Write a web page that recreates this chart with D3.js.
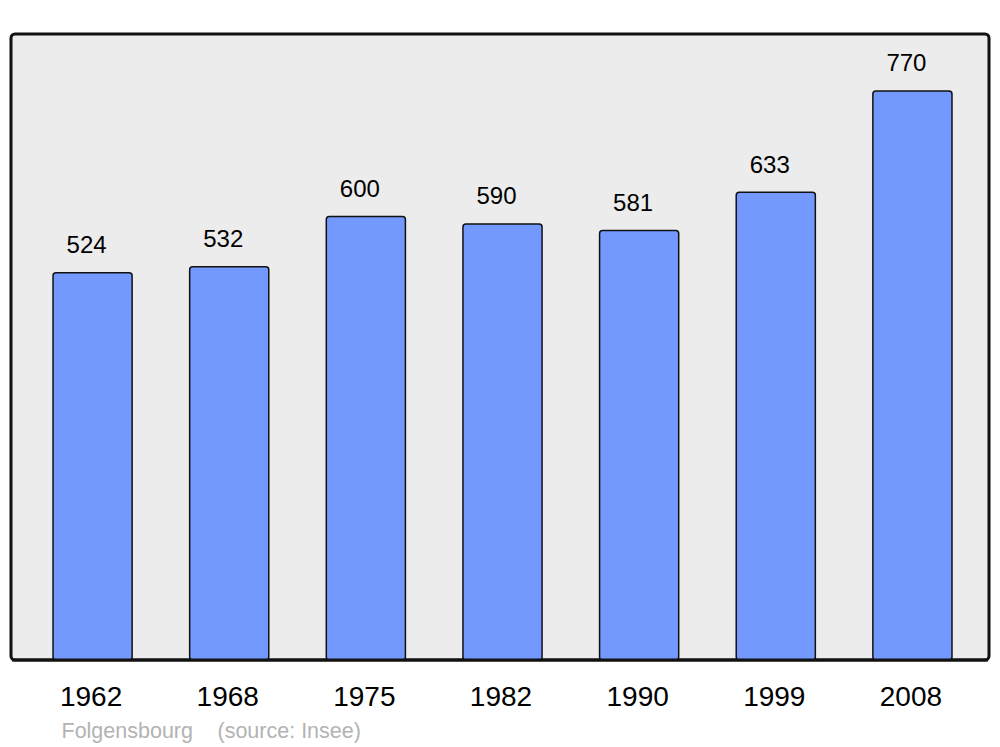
<!DOCTYPE html>
<html><head><meta charset="utf-8">
<script src="https://cdn.jsdelivr.net/npm/d3@7"></script>
<style>body{margin:0;background:#fff}svg{display:block}</style>
</head><body>
<script>
const years = ["1962","1968","1975","1982","1990","1999","2008"];
const population = [524,532,600,590,581,633,770];
const captionName = "Folgensbourg";
const captionSource = "(source: Insee)";

const W = 1000, H = 747;
const svg = d3.select("body").append("svg").attr("width", W).attr("height", H);
const fx = 11, fy = 34, fw = 978, fh = 626;
const font = "Liberation Sans, Arial, sans-serif";

svg.append("rect").attr("x", fx).attr("y", fy).attr("width", fw).attr("height", fh)
  .attr("rx", 4).attr("fill", "#ececec").attr("stroke", "#111").attr("stroke-width", 3);

const x = d3.scaleBand().domain(years).range([24.25, 980.75]).paddingInner(0.421).paddingOuter(0.2105);
const y = d3.scaleLinear().domain([0, d3.max(population) * 1.1]).range([fy + fh, fy]);

const g = svg.append("g");
g.selectAll("rect.bar").data(years).join("rect").attr("class", "bar")
  .attr("x", d => x(d)).attr("width", x.bandwidth())
  .attr("y", (d, i) => y(population[i]))
  .attr("height", (d, i) => y(0) - y(population[i]))
  .attr("rx", 3).attr("fill", "#7399ff").attr("stroke", "#111").attr("stroke-width", 1.5);

// redraw frame bottom over bars
svg.append("line").attr("x1", fx + 1).attr("x2", fx + fw - 1).attr("y1", fy + fh).attr("y2", fy + fh)
  .attr("stroke", "#111").attr("stroke-width", 3);

g.selectAll("text.val").data(years).join("text").attr("class", "val")
  .attr("x", d => x(d) + x.bandwidth() / 2 - 6)
  .attr("y", (d, i) => y(population[i]) - 19.5)
  .attr("text-anchor", "middle").attr("font-family", font)
  .attr("font-size", 24).attr("fill", "#000")
  .text((d, i) => population[i]);

g.selectAll("text.year").data(years).join("text").attr("class", "year")
  .attr("x", d => x(d) + x.bandwidth() / 2 - 1.5)
  .attr("y", 705.5)
  .attr("text-anchor", "middle").attr("font-family", font)
  .attr("font-size", 28).attr("fill", "#000")
  .text(d => d);

svg.append("text").attr("x", 61.5).attr("y", 738)
  .attr("font-family", font).attr("font-size", 21.5).attr("fill", "#b3b3b3")
  .text(captionName);
svg.append("text").attr("x", 217.5).attr("y", 738)
  .attr("font-family", font).attr("font-size", 21.5).attr("fill", "#b3b3b3")
  .text(captionSource);
</script>
</body></html>
